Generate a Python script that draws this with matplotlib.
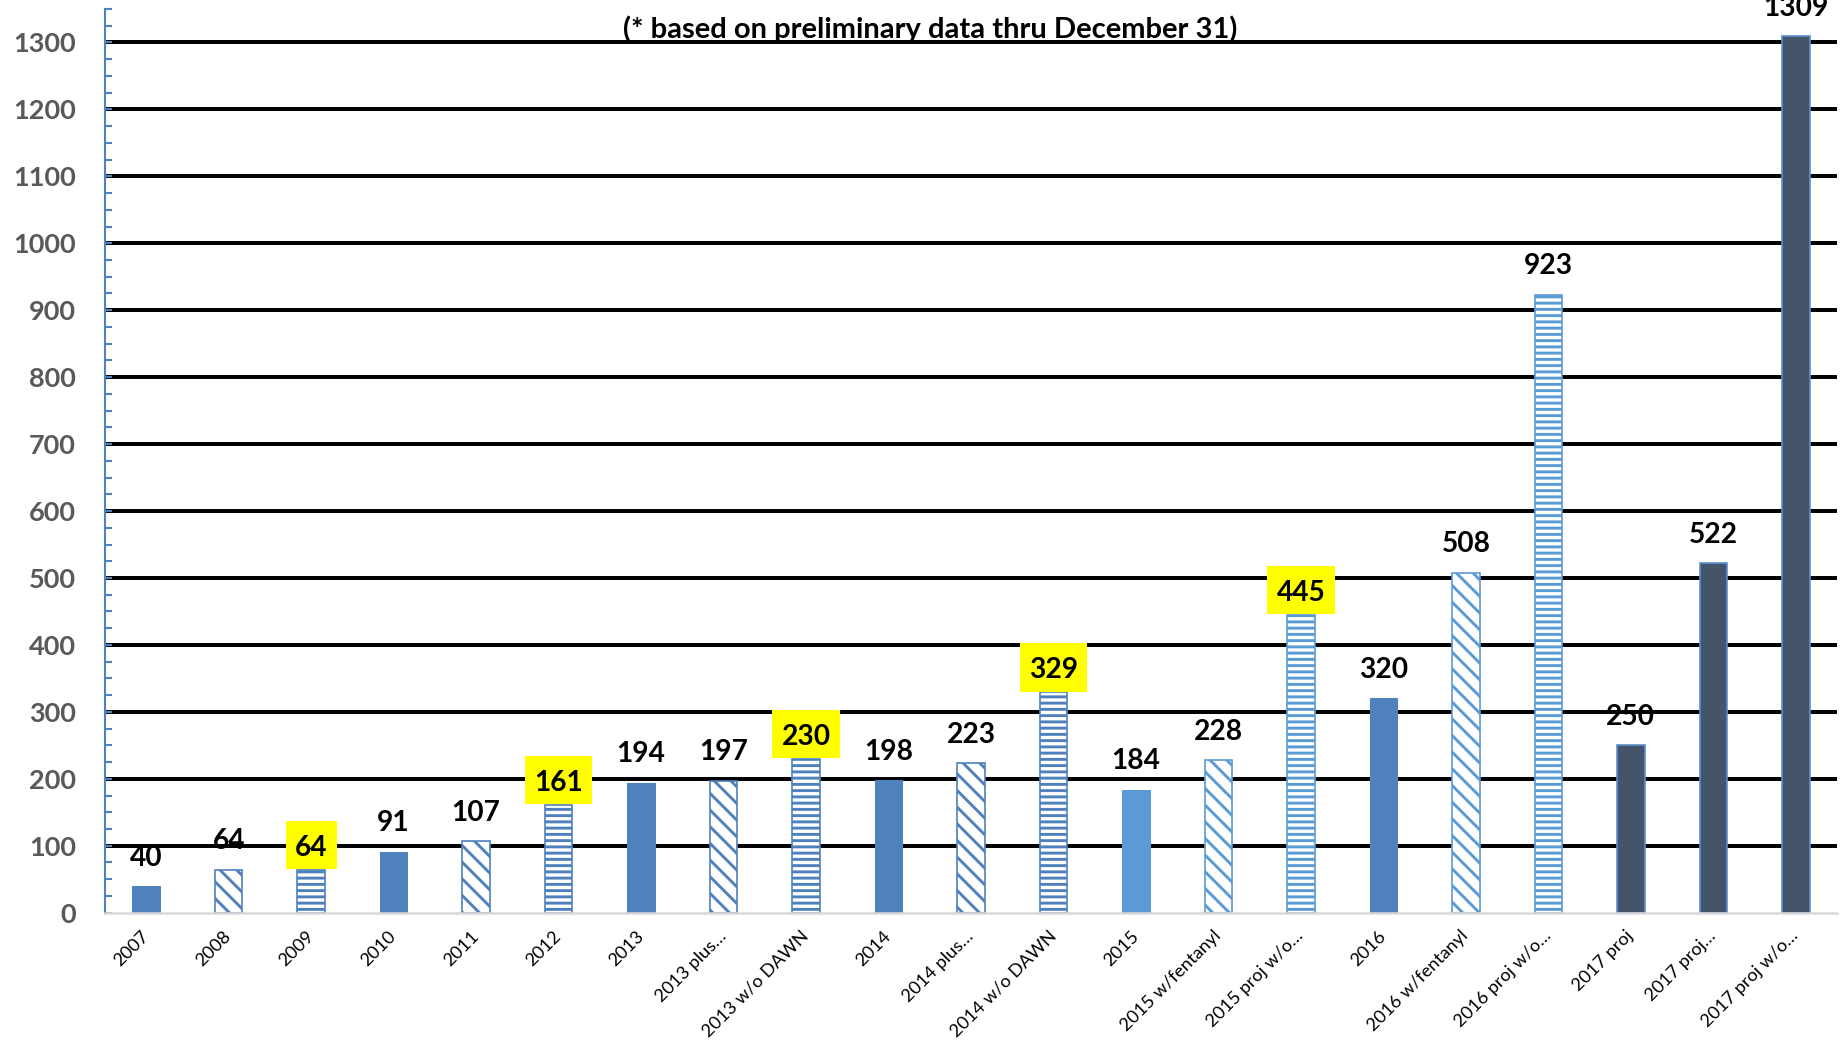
import matplotlib
matplotlib.use('Agg')
import matplotlib.pyplot as plt
from matplotlib.ticker import MultipleLocator
from matplotlib.path import Path

plt.rcParams['font.family'] = ['Lato', 'DejaVu Sans']
plt.rcParams['hatch.linewidth'] = 1.4

categories = ["2007", "2008", "2009", "2010", "2011", "2012", "2013",
              "2013 plus…", "2013 w/o DAWN", "2014", "2014 plus…",
              "2014 w/o DAWN", "2015", "2015 w/fentanyl", "2015 proj w/o…",
              "2016", "2016 w/fentanyl", "2016 proj w/o…", "2017 proj",
              "2017 proj…", "2017 proj w/o…"]
values = [40, 64, 64, 91, 107, 161, 194, 197, 230, 198, 223, 329,
          184, 228, 445, 320, 508, 923, 250, 522, 1309]
styles = ["solid", "diag", "horiz", "solid", "diag", "horiz", "solid",
          "diag", "horiz", "solid", "diag", "horiz",
          "solid_light", "diag_light", "horiz_light",
          "solid", "diag_light", "horiz_light",
          "dark", "dark", "dark"]
highlighted = [False, False, True, False, False, True, False,
               False, True, False, False, True,
               False, False, True, False, False, False,
               False, False, False]
subtitle = "(* based on preliminary data thru December 31)"
y_ticks = list(range(0, 1301, 100))

BLUE = '#4F81BD'
LIGHT = '#5B9BD5'
DARK = '#44546A'


def tall_box(x0, y0, width, height, mutation_size):
    px = 0.33 * mutation_size
    pbot = 0.30 * mutation_size
    ptop = 0.50 * mutation_size
    xa, ya = x0 - px, y0 - pbot
    xb, yb = x0 + width + px, y0 + height + ptop
    return Path([(xa, ya), (xb, ya), (xb, yb), (xa, yb), (xa, ya)], closed=True)


W, H = 1845, 1047
fig = plt.figure(figsize=(W / 150, H / 150), dpi=150)
ax = fig.add_axes([105 / W, 1 - 912.7 / H, (1837 - 105) / W, (912.7 - 9) / H])

x = list(range(len(categories)))
bars = ax.bar(x, values, width=1 / 3, zorder=2)
for patch, st in zip(bars.patches, styles):
    if st == 'solid':
        patch.set_facecolor(BLUE); patch.set_edgecolor(BLUE); patch.set_linewidth(0.5)
    elif st == 'solid_light':
        patch.set_facecolor(LIGHT); patch.set_edgecolor(LIGHT); patch.set_linewidth(0.5)
    elif st == 'dark':
        patch.set_facecolor(DARK); patch.set_edgecolor('#5B8FCF'); patch.set_linewidth(0.8)
    else:
        col = LIGHT if st.endswith('light') else BLUE
        patch.set_facecolor('white')
        patch.set_edgecolor(col)
        patch.set_linewidth(0.8)
        patch.set_hatch('\\\\\\' if st.startswith('diag') else '----')

ax.set_xlim(-0.5, len(categories) - 0.5)
ax.set_ylim(0, 1350)

ax.set_yticks(y_ticks)
ax.yaxis.set_minor_locator(MultipleLocator(25))
ax.tick_params(axis='y', which='both', direction='in', length=3.2, width=1,
               color=BLUE, labelcolor='#595959', labelsize=13, pad=14)
for lbl in ax.get_yticklabels():
    lbl.set_fontweight('bold')

ax.set_xticks(x)
ax.set_xticklabels(categories, rotation=45, ha='right', va='center',
                   rotation_mode='anchor', fontsize=8.7, color='black')
ax.tick_params(axis='x', length=0, pad=10)

ax.grid(axis='y', which='major', color='black', linewidth=1.9)
ax.set_axisbelow(True)
ax.get_ygridlines()[0].set_visible(False)

for s in ['top', 'right']:
    ax.spines[s].set_visible(False)
ax.spines['left'].set_color(BLUE)
ax.spines['left'].set_linewidth(1.0)
ax.spines['bottom'].set_color('#D9D9D9')
ax.spines['bottom'].set_linewidth(1.2)

for i, (v, hl) in enumerate(zip(values, highlighted)):
    if hl:
        ax.annotate(str(v), (i, v), xytext=(0, 6.8), textcoords='offset points',
                    ha='center', va='baseline', fontsize=13.5, fontweight='bold',
                    color='black', zorder=5,
                    bbox=dict(boxstyle=tall_box, fc='#FFFF00', ec='none'))
    else:
        ax.annotate(str(v), (i, v), xytext=(0, 9.8), textcoords='offset points',
                    ha='center', va='baseline', fontsize=13.5, fontweight='bold',
                    color='black', zorder=5)

ax.text(9.5, 1306, subtitle, ha='center', va='baseline', fontsize=14,
        fontweight='bold', color='black', zorder=5)

fig.savefig('out.png', dpi=150)
